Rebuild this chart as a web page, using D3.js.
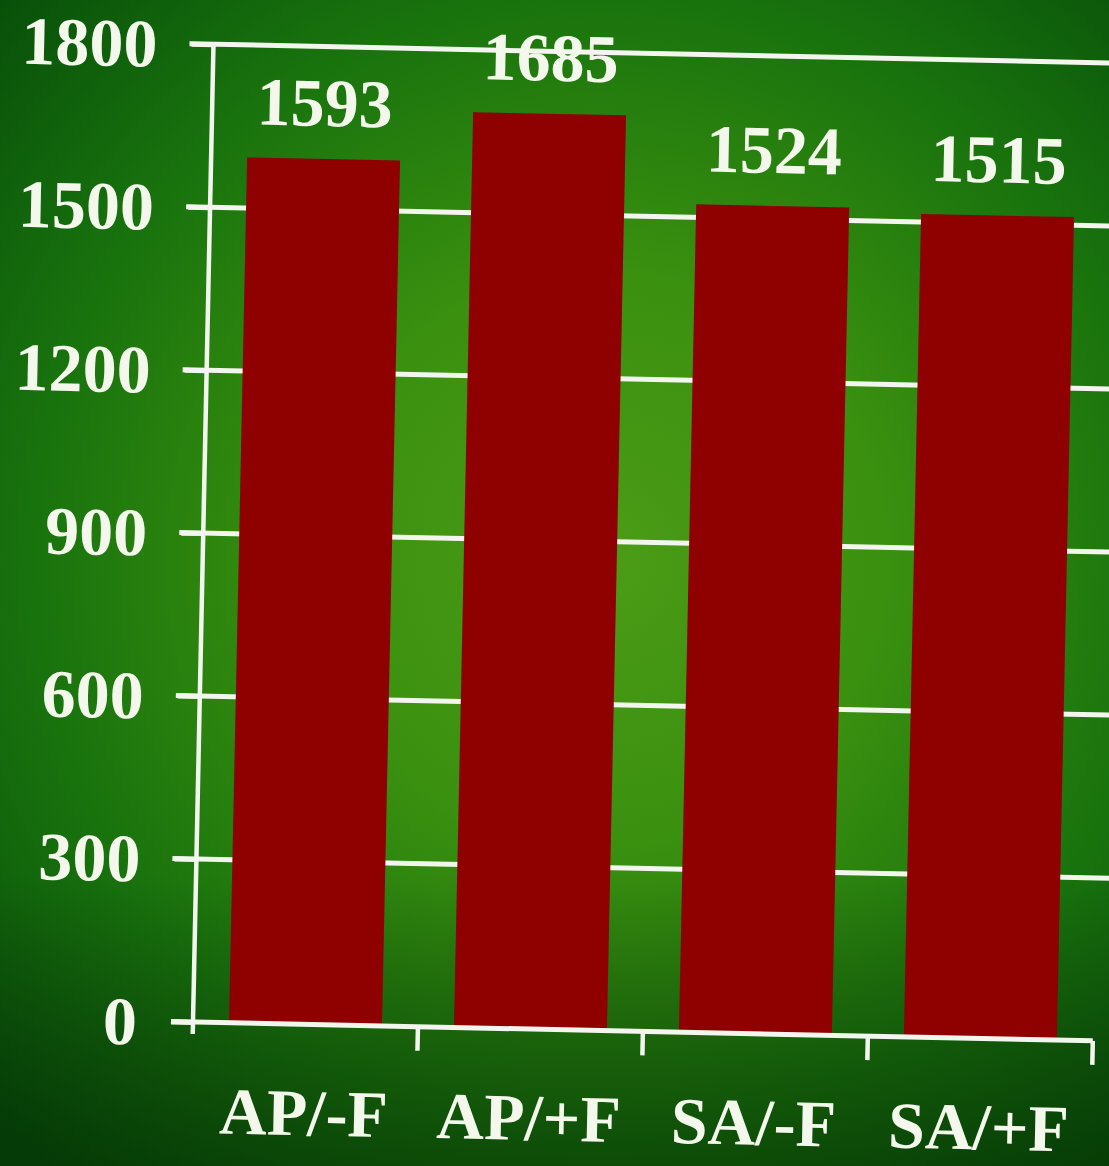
<!DOCTYPE html>
<html>
<head>
<meta charset="utf-8">
<script src="https://cdn.jsdelivr.net/npm/d3@7/dist/d3.min.js"></script>
<style>
 html, body { margin: 0; padding: 0; background: #0b4f0b; overflow: hidden; }
 svg { display: block; }
 .lbl { font-family: "Liberation Serif", "DejaVu Serif", serif; font-weight: bold; fill: #f4f8ec; }
</style>
</head>
<body>
<svg id="chart"></svg>
<script>
 // data
 var categories = ["AP/-F", "AP/+F", "SA/-F", "SA/+F"];
 var values = [1593, 1685, 1524, 1515];
 var yTicks = [0, 300, 600, 900, 1200, 1500, 1800];

 var W = 1109, H = 1166;
 var svg = d3.select("#chart").attr("width", W).attr("height", H);

 // background: green radial glow, darker at edges
 var defs = svg.append("defs");
 var rg = defs.append("radialGradient").attr("id", "bg")
     .attr("gradientUnits", "userSpaceOnUse")
     .attr("cx", 600).attr("cy", 560).attr("r", 820);
 rg.append("stop").attr("offset", "0%").attr("stop-color", "#4c9c16");
 rg.append("stop").attr("offset", "35%").attr("stop-color", "#3a900f");
 rg.append("stop").attr("offset", "70%").attr("stop-color", "#18720d");
 rg.append("stop").attr("offset", "100%").attr("stop-color", "#08500a");
 var lg = defs.append("linearGradient").attr("id", "shade")
     .attr("x1", 0).attr("y1", 0).attr("x2", 0).attr("y2", 1);
 lg.append("stop").attr("offset", "0%").attr("stop-color", "#000").attr("stop-opacity", 0);
 lg.append("stop").attr("offset", "75%").attr("stop-color", "#000").attr("stop-opacity", 0);
 lg.append("stop").attr("offset", "100%").attr("stop-color", "#001a00").attr("stop-opacity", 0.4);

 svg.append("rect").attr("width", W).attr("height", H).attr("fill", "url(#bg)");
 svg.append("rect").attr("width", W).attr("height", H).attr("fill", "url(#shade)");

 // plot frame, slightly rotated like the photographed slide
 var pw = 900, ph = 978;
 var g = svg.append("g").attr("transform", "translate(193,1022) rotate(1.2)");

 var x = d3.scaleBand().domain(categories).range([0, pw]).paddingInner(0.32).paddingOuter(0.16);
 var y = d3.scaleLinear().domain([0, 1800]).range([0, -ph]);

 var lineCol = "#f3f6ee";

 // gridlines behind bars
 g.append("g").selectAll("line").data(yTicks.filter(function(d){ return d > 0; }))
  .join("line")
  .attr("x1", -24).attr("x2", pw + 40)
  .attr("y1", function(d){ return y(d); }).attr("y2", function(d){ return y(d); })
  .attr("stroke", lineCol).attr("stroke-width", 5);

 // bars
 g.append("g").selectAll("rect").data(values)
  .join("rect")
  .attr("x", function(d, i){ return x(categories[i]); })
  .attr("width", x.bandwidth())
  .attr("y", function(d){ return y(d); })
  .attr("height", function(d){ return -y(d); })
  .attr("fill", "#8f0000");

 // y axis
 var yAxis = g.append("g").call(d3.axisLeft(y).tickValues(yTicks).tickSize(22).tickPadding(34).tickFormat(d3.format("d")));
 yAxis.select(".domain").remove();
 yAxis.selectAll(".tick line").attr("stroke", lineCol).attr("stroke-width", 5);
 yAxis.selectAll(".tick text").attr("class", "lbl").attr("font-size", 68).attr("dy", "0.34em")
      .attr("fill", null);
 g.append("line").attr("x1", 0).attr("x2", 0).attr("y1", y(1800)).attr("y2", 12)
  .attr("stroke", lineCol).attr("stroke-width", 4.5);

 // x axis: ticks at category boundaries
 var bounds = categories.map(function(c){ return x(c) - x.step() * x.paddingInner() / 2; });
 bounds[0] = 0;
 bounds.push(pw);
 g.append("line").attr("x1", -22).attr("x2", pw).attr("y1", 0).attr("y2", 0)
  .attr("stroke", lineCol).attr("stroke-width", 5);
 g.append("g").selectAll("line").data(bounds.slice(1)).join("line")
  .attr("x1", function(d){ return d; }).attr("x2", function(d){ return d; })
  .attr("y1", 0).attr("y2", 24)
  .attr("stroke", lineCol).attr("stroke-width", 4.5);

 g.append("g").selectAll("text").data(categories).join("text")
  .attr("class", "lbl").attr("font-size", 66).attr("text-anchor", "middle")
  .attr("x", function(d){ return x(d) + x.bandwidth() / 2; })
  .attr("y", 111)
  .text(function(d){ return d; });

 // value labels above bars
 g.append("g").selectAll("text").data(values).join("text")
  .attr("class", "lbl").attr("font-size", 68).attr("text-anchor", "middle")
  .attr("x", function(d, i){ return x(categories[i]) + x.bandwidth() / 2; })
  .attr("y", function(d){ return y(d) - 33; })
  .text(function(d){ return d; });
</script>
</body>
</html>
